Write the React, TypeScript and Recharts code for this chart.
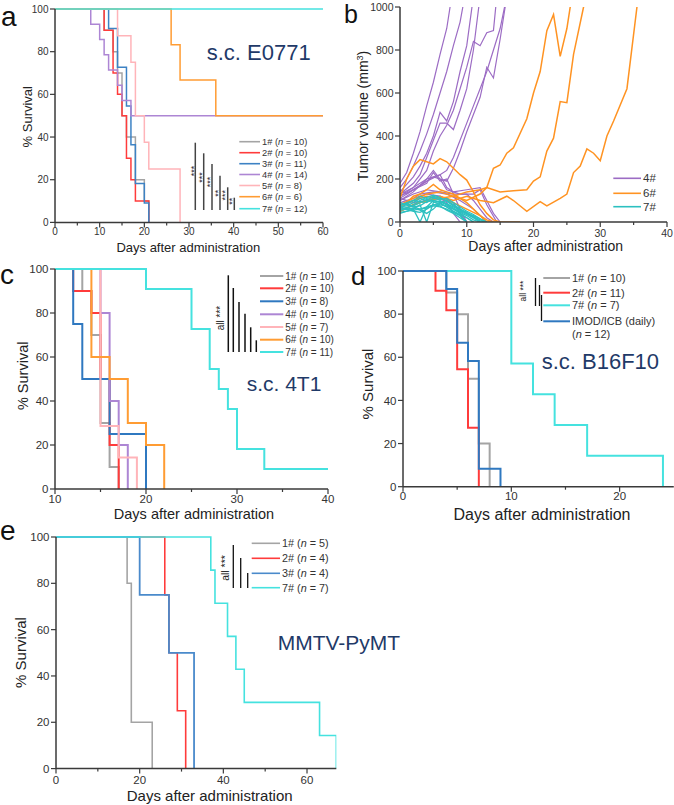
import { LineChart, Line, XAxis, YAxis } from "recharts";

type P = [number, number];

const FONT = "'Liberation Sans', Arial, Helvetica, sans-serif";
const AXIS = "#3a3a3a";
const NAVY = "#1f3a68";

const GREY = "#a4a4a4";
const RED = "#ff3b3b";
const BLUE = "#3d82c4";
const PURPLE = "#ad86d4";
const PINK = "#ffb4b9";
const ORANGE = "#ff9c33";
const CYAN = "#45e2df";

// ---------- a: s.c. E0771 survival ----------
const aGroups = ["1#", "2#", "3#", "4#", "5#", "6#", "7#"];
const aN = [10, 10, 11, 14, 8, 6, 12];
const a1: P[] = [[0, 100], [11, 90], [13, 80], [14, 70], [15, 50], [16, 40], [18, 20], [20, 10], [21, 0]];
const a2: P[] = [[0, 100], [11, 90], [13, 70], [14, 60], [15, 50], [16, 30], [17, 20], [18, 10], [21, 0]];
const a3: P[] = [[0, 100], [12, 90.9], [14, 72.7], [16, 54.5], [17, 36.4], [18, 18.2], [20, 9.1], [21, 0]];
const a4: P[] = [[0, 100], [8, 92.9], [10, 85.7], [11, 78.6], [12, 71.4], [14, 64.3], [15, 57.1], [17, 50], [60, 50]];
const a5: P[] = [[0, 100], [14, 87.5], [17, 75], [18, 50], [20, 37.5], [21, 25], [28, 0]];
const a6: P[] = [[0, 100], [26, 83.3], [28, 66.7], [36, 50], [60, 50]];
const a7: P[] = [[0, 100], [60, 100]];
const aXTicks = [0, 5, 10, 15, 20, 25, 30, 35, 40, 45, 50, 55, 60];
const aXMajor = [0, 10, 20, 30, 40, 50, 60];

// ---------- b: tumour volume ----------
const b4: P[][] = [
  [[0, 180], [1, 230], [2, 320], [3, 420], [4, 540], [5, 650], [6, 780], [7, 900], [8, 1100]],
  [[0, 160], [1, 200], [2, 260], [3, 330], [4, 410], [5, 500], [6, 600], [7, 700], [8, 820], [9, 930], [10, 1100]],
  [[0, 140], [2, 210], [3, 260], [4, 320], [5, 400], [6, 510], [7, 470], [8, 560], [9, 700], [10, 820], [11, 1050]],
  [[0, 130], [2, 180], [3, 220], [4, 300], [5, 380], [6, 460], [7, 460], [8, 430], [9, 520], [10, 620], [11, 800], [12, 1050]],
  [[0, 120], [2, 160], [4, 240], [5, 330], [6, 400], [7, 450], [8, 520], [9, 620], [10, 720], [11, 840], [12, 820], [13, 880], [14, 890], [14.5, 1050]],
  [[0, 100], [2, 140], [4, 200], [5, 240], [6, 200], [7, 190], [8, 250], [9, 330], [10, 420], [11, 500], [12, 580], [13, 720], [14, 670], [15, 850], [16, 1050]],
  [[0, 110], [2, 150], [4, 190], [6, 220], [7, 240], [8, 300], [9, 380], [10, 460], [11, 540], [12, 620], [13, 700], [14, 800], [15, 900], [16, 1050]],
  [[0, 120], [2, 150], [4, 180], [5, 230], [6, 190], [7, 200], [8, 130], [9, 60], [10, 0]],
  [[0, 100], [2, 130], [4, 150], [6, 140], [8, 130], [10, 130], [11, 100], [12, 60], [13, 20], [14, 0]],
  [[0, 150], [1, 130], [3, 170], [5, 210], [6, 200], [7, 150], [9, 130], [11, 130], [12, 150], [13, 80], [14.5, 0]],
  [[0, 80], [2, 100], [4, 130], [6, 120], [8, 90], [9, 40], [10, 0]],
  [[0, 90], [2, 110], [3, 130], [5, 140], [7, 130], [9, 100], [11, 60], [12, 30], [13, 0]],
  [[0, 110], [2, 90], [4, 100], [6, 110], [7, 90], [8, 40], [9, 0]],
  [[0, 130], [2, 160], [4, 200], [6, 220], [7, 160], [8, 140], [10, 150], [12, 160], [13, 100], [14, 40], [15, 0]],
];
const b6: P[][] = [
  [[0, 110], [1, 200], [2, 260], [3, 290], [4, 280], [5, 270], [6, 295], [7, 280], [8, 250], [9, 220], [10, 195], [11, 140], [12, 80], [13, 40], [14, 10], [15, 0]],
  [[0, 60], [1, 90], [2, 120], [3, 130], [4, 150], [5, 175], [6, 150], [7, 140], [8, 130], [9, 110], [10, 90], [11, 60], [12, 30], [13, 10], [14, 0]],
  [[0, 50], [2, 80], [4, 100], [6, 110], [8, 90], [10, 60], [12, 30], [13, 0], [18, 0]],
  [[0, 80], [2, 110], [4, 130], [6, 140], [8, 120], [10, 100], [12, 130], [13, 160], [14, 250], [15, 265], [16, 320], [17, 345], [19, 480], [20, 600], [21, 700], [22, 890], [23, 965], [24, 770], [25, 900], [26, 1100]],
  [[0, 70], [2, 100], [4, 120], [6, 110], [8, 120], [10, 140], [12, 150], [13, 160], [14, 150], [15, 140], [17, 145], [19, 150], [20, 190], [21, 210], [22, 330], [23, 390], [24, 560], [25, 555], [26, 780], [27.5, 1000], [28, 1100]],
  [[0, 50], [2, 80], [4, 100], [6, 120], [8, 100], [10, 120], [12, 100], [13, 95], [14, 90], [16, 120], [17, 100], [19, 50], [21, 95], [22, 75], [24, 110], [25, 130], [26, 230], [27, 260], [28, 340], [29, 320], [30, 285], [31, 400], [32, 470], [34, 620], [35.5, 1000]],
];
const b7: P[][] = [
  [[0, 70], [1, 75], [2, 90], [3, 110], [4, 100], [5, 120], [6, 110], [7, 100], [8, 80], [9, 60], [10, 40], [11, 25], [12, 10], [13, 0]],
  [[0, 60], [1, 65], [2, 80], [3, 100], [4, 115], [5, 125], [6, 115], [7, 95], [8, 75], [9, 55], [10, 40], [11, 20], [12, 0]],
  [[0, 55], [1, 60], [2, 60], [3, 0], [4, 70], [5, 100], [6, 90], [7, 70], [8, 50], [9, 30], [10, 0]],
  [[0, 40], [2, 60], [3, 80], [4, 0], [5, 90], [6, 95], [7, 80], [8, 60], [9, 40], [10, 20], [11, 0]],
  [[0, 75], [1, 90], [2, 100], [3, 95], [4, 90], [5, 110], [6, 105], [7, 110], [8, 90], [9, 70], [10, 50], [11, 35], [12, 15], [13, 0]],
  [[0, 80], [1, 85], [2, 70], [3, 60], [4, 70], [5, 80], [6, 85], [7, 70], [8, 50], [9, 35], [10, 20], [11, 0]],
  [[0, 65], [2, 100], [3, 120], [4, 110], [5, 115], [6, 100], [7, 85], [8, 70], [9, 55], [10, 40], [11, 30], [12, 15], [13, 0]],
  [[0, 45], [2, 55], [4, 65], [5, 75], [6, 70], [7, 60], [8, 45], [9, 30], [10, 0]],
  [[0, 90], [1, 80], [2, 70], [3, 75], [4, 95], [5, 100], [6, 95], [7, 85], [8, 65], [9, 45], [10, 30], [11, 10], [12, 0]],
  [[0, 60], [2, 75], [3, 90], [4, 105], [5, 95], [6, 80], [7, 75], [8, 60], [9, 50], [10, 35], [11, 20], [12, 5], [13, 0]],
  [[0, 70], [2, 50], [3, 45], [4, 60], [5, 80], [6, 75], [7, 55], [8, 40], [9, 20], [10, 0]],
  [[0, 55], [2, 65], [3, 55], [4, 40], [5, 60], [6, 90], [7, 100], [8, 80], [9, 60], [10, 45], [11, 25], [12, 0]],
];
const bXTicks = [0, 5, 10, 15, 20, 25, 30, 35, 40];
const bXMajor = [0, 10, 20, 30, 40];
const bYTicks = [0, 200, 400, 600, 800, 1000];

// ---------- c: s.c. 4T1 survival ----------
const cN = [10, 10, 8, 10, 7, 10, 11];
const c1: P[] = [[10, 100], [13, 90], [14, 70], [15, 30], [16, 10], [17, 0]];
const c2: P[] = [[10, 100], [12, 90], [14, 80], [15, 50], [16, 20], [17, 0]];
const c3: P[] = [[10, 100], [12, 75], [13, 50], [16, 25], [20, 0]];
const c4: P[] = [[10, 100], [15, 80], [16, 40], [17, 20], [18, 0]];
const c5: P[] = [[10, 100], [15, 28.6], [17, 14.3], [19, 0]];
const c6: P[] = [[10, 100], [14, 60], [16, 50], [18, 30], [20, 20], [22, 0]];
const c7: P[] = [[10, 100], [20, 90.9], [25, 72.7], [27, 54.5], [28, 45.5], [29, 36.4], [30, 18.2], [33, 9.1], [40, 9.1]];
const cXTicks = [10, 15, 20, 25, 30, 35, 40];
const cXMajor = [10, 20, 30, 40];

// ---------- d: s.c. B16F10 survival ----------
const d1: P[] = [[0, 100], [4, 90], [5, 80], [6, 50], [7, 20], [8, 0]];
const d2: P[] = [[0, 100], [3, 90.9], [4, 81.8], [5, 54.5], [6, 27.3], [7, 0]];
const d7: P[] = [[0, 100], [10, 57.1], [12, 42.9], [14, 28.6], [17, 14.3], [24, 0]];
const dImod: P[] = [[0, 100], [4, 91.7], [5, 66.7], [6, 58.3], [7, 8.3], [9, 0]];
const dXTicks = [0, 5, 10, 15, 20];
const dXMajor = [0, 10, 20];

// ---------- e: MMTV-PyMT survival ----------
const e1: P[] = [[0, 100], [17, 80], [18, 20], [23, 0]];
const e2: P[] = [[0, 100], [26, 75], [27, 50], [29, 25], [31, 0]];
const e3: P[] = [[0, 100], [20, 75], [27, 50], [33, 0]];
const e7: P[] = [[0, 100], [37, 85.7], [38, 71.4], [41, 57.1], [43, 42.9], [45, 28.6], [63, 14.3], [67, 0]];
const eXTicks = [0, 10, 20, 30, 40, 50, 60];
const eXMajor = [0, 20, 40, 60];

const survTicks = [0, 20, 40, 60, 80, 100];

interface Series {
  pts: P[];
  color: string;
  width?: number;
}

interface PanelProps {
  L: number;
  T: number;
  R: number;
  B: number;
  xDomain: [number, number];
  xTicks: number[];
  xMajor: number[];
  yDomain: [number, number];
  yTicks: number[];
  series: Series[];
  fs: number;
  labelGap?: number;
  step?: boolean;
  clip?: boolean;
}

const YW = 40;
const XH = 30;
const MT = 8;
const MR = 8;

const Panel = (p: PanelProps) => {
  const w = p.R - p.L + YW + MR;
  const h = p.B - p.T + MT + XH;
  const gap = p.labelGap ?? 13;
  const xTick = (props: any) => {
    const { x, y, payload } = props;
    const major = p.xMajor.includes(payload.value);
    return (
      <g>
        <line x1={x} y1={y} x2={x} y2={y + (major ? 5 : 3)} stroke={AXIS} strokeWidth={1.2} />
        {major && (
          <text x={x} y={y + gap} textAnchor="middle" fontSize={p.fs} fill="#333" fontFamily={FONT}>
            {payload.value}
          </text>
        )}
      </g>
    );
  };
  const yTick = (props: any) => {
    const { x, y, payload } = props;
    return (
      <g>
        <line x1={x} y1={y} x2={x - 5} y2={y} stroke={AXIS} strokeWidth={1.2} />
        <text x={x - 6.5} y={y} dy="0.36em" textAnchor="end" fontSize={p.fs} fill="#333" fontFamily={FONT}>
          {payload.value}
        </text>
      </g>
    );
  };
  return (
    <div style={{ position: "absolute", left: p.L - YW, top: p.T - MT }}>
      <LineChart width={w} height={h} margin={{ top: MT, right: MR, bottom: 0, left: 0 }}>
        <XAxis
          dataKey="t"
          type="number"
          domain={p.xDomain}
          ticks={p.xTicks}
          interval={0}
          height={XH}
          tickSize={0}
          tickMargin={0}
          tickLine={false}
          tick={xTick}
          axisLine={{ stroke: AXIS, strokeWidth: 1.5 }}
          allowDataOverflow
        />
        <YAxis
          type="number"
          domain={p.yDomain}
          ticks={p.yTicks}
          interval={0}
          width={YW}
          tickSize={0}
          tickMargin={0}
          tickLine={false}
          tick={yTick}
          axisLine={{ stroke: AXIS, strokeWidth: 1.5 }}
          allowDataOverflow={p.clip}
        />
        {p.series.map((s, i) => (
          <Line
            key={i}
            data={s.pts.map(([t, v]) => ({ t, s: v }))}
            dataKey="s"
            type={p.step === false ? "linear" : "stepAfter"}
            stroke={s.color}
            strokeWidth={s.width ?? 1.6}
            dot={false}
            activeDot={false}
            isAnimationActive={false}
          />
        ))}
      </LineChart>
    </div>
  );
};

const Legend = ({
  labels,
  ns,
  colors,
  x0,
  x1,
  rows,
  fs,
  sw = 1.6,
}: {
  labels: string[];
  ns: (number | null)[];
  colors: string[];
  x0: number;
  x1: number;
  rows: number[];
  fs: number;
  sw?: number;
}) => (
  <g>
    {labels.map((lab, i) => (
      <g key={i}>
        <line x1={x0} y1={rows[i]} x2={x1} y2={rows[i]} stroke={colors[i]} strokeWidth={sw} />
        <text x={x1 + 2} y={rows[i]} dy="0.36em" fontSize={fs} fill="#333">
          {lab}
          {ns[i] !== null && (
            <>
              {" ("}
              <tspan fontStyle="italic">n</tspan>
              {` = ${ns[i]})`}
            </>
          )}
        </text>
      </g>
    ))}
  </g>
);

const Rot = ({ x, y, fs, children }: { x: number; y: number; fs: number; children: any }) => (
  <text x={x} y={y} fontSize={fs} textAnchor="middle" transform={`rotate(-90 ${x} ${y})`} fill="#222">
    {children}
  </text>
);

const VLines = ({ lines, color, sw }: { lines: number[][]; color: string; sw: number }) => (
  <g>
    {lines.map(([x, y1, y2], i) => (
      <line key={i} x1={x} y1={y1} x2={x} y2={y2} stroke={color} strokeWidth={sw} />
    ))}
  </g>
);

export default function App() {
  const aColors = [GREY, RED, BLUE, PURPLE, PINK, ORANGE, CYAN];
  return (
    <div
      style={{
        position: "absolute",
        left: 0,
        top: 0,
        width: 674,
        height: 805,
        overflow: "hidden",
        background: "#fff",
        fontFamily: FONT,
      }}
    >
      <Panel
        L={55}
        T={9.3}
        R={323}
        B={222.7}
        xDomain={[0, 60]}
        xTicks={aXTicks}
        xMajor={aXMajor}
        yDomain={[0, 100]}
        yTicks={survTicks}
        fs={10}
        series={[a1, a2, a3, a4, a5, a6, a7].map((pts, i) => ({ pts, color: aColors[i], width: 1.5 }))}
      />
      <Panel
        L={400}
        T={6.7}
        R={667}
        B={221.7}
        xDomain={[0, 40]}
        xTicks={bXTicks}
        xMajor={bXMajor}
        yDomain={[0, 1000]}
        yTicks={bYTicks}
        fs={10.5}
        labelGap={14.5}
        step={false}
        clip
        series={[
          ...b4.map((pts) => ({ pts, color: "#9c6cc4", width: 1.2 })),
          ...b6.map((pts) => ({ pts, color: "#ff9322", width: 1.5 })),
          ...b7.map((pts) => ({ pts, color: "#2cc0c0", width: 1.3 })),
        ]}
      />
      <Panel
        L={55}
        T={269}
        R={328}
        B={489}
        xDomain={[10, 40]}
        xTicks={cXTicks}
        xMajor={cXMajor}
        yDomain={[0, 100]}
        yTicks={survTicks}
        fs={11.5}
        labelGap={13.5}
        series={[c1, c2, c3, c4, c5, c6, c7].map((pts, i) => ({ pts, color: aColors[i] === BLUE ? "#2f78c0" : aColors[i], width: 2 }))}
      />
      <Panel
        L={403.3}
        T={271}
        R={674.1}
        B={486.7}
        xDomain={[0, 25]}
        xTicks={dXTicks}
        xMajor={dXMajor}
        yDomain={[0, 100]}
        yTicks={survTicks}
        fs={11.5}
        labelGap={13}
        series={[
          { pts: d1, color: GREY, width: 2 },
          { pts: d2, color: RED, width: 2 },
          { pts: d7, color: CYAN, width: 2 },
          { pts: dImod, color: "#2f78c0", width: 2 },
        ]}
      />
      <Panel
        L={55.7}
        T={536.7}
        R={336}
        B={768.3}
        xDomain={[0, 67]}
        xTicks={eXTicks}
        xMajor={eXMajor}
        yDomain={[0, 100]}
        yTicks={survTicks}
        fs={11.5}
        labelGap={15.5}
        series={[
          { pts: e1, color: GREY, width: 1.6 },
          { pts: e2, color: RED, width: 1.6 },
          { pts: e3, color: "#4a8acb", width: 1.8 },
          { pts: e7, color: CYAN, width: 1.6 },
        ]}
      />

      <svg
        width={674}
        height={805}
        style={{ position: "absolute", left: 0, top: 0, pointerEvents: "none" }}
        fontFamily={FONT}
      >
        {/* panel letters */}
        <g fill="#111">
          <text x={1} y={25.5} fontSize={28}>a</text>
          <text x={344} y={23} fontSize={25}>b</text>
          <text x={0} y={284} fontSize={28}>c</text>
          <text x={351} y={285} fontSize={26}>d</text>
          <text x={0} y={540} fontSize={28}>e</text>
        </g>

        {/* titles */}
        <g fill={NAVY}>
          <text x={206.7} y={59.5} fontSize={22}>s.c. E0771</text>
          <text x={246.7} y={391} fontSize={21}>s.c. 4T1</text>
          <text x={541.7} y={369.3} fontSize={22}>s.c. B16F10</text>
          <text x={277.7} y={650} fontSize={21}>MMTV-PyMT</text>
        </g>

        {/* axis titles */}
        <g fill="#222">
          <text x={188.3} y={251.5} fontSize={13} textAnchor="middle">Days after administration</text>
          <Rot x={32.5} y={116.7} fs={13}>% Survival</Rot>
          <text x={545.7} y={251} fontSize={14} textAnchor="middle">Days after administration</text>
          <Rot x={368} y={116} fs={14}>
            Tumor volume (mm<tspan fontSize={9} dy={-5}>3</tspan>
            <tspan dy={5}>)</tspan>
          </Rot>
          <text x={194} y={519} fontSize={14.5} textAnchor="middle">Days after administration</text>
          <Rot x={28} y={375.8} fs={14.5}>% Survival</Rot>
          <text x={542} y={520} fontSize={16} textAnchor="middle">Days after administration</text>
          <Rot x={372.5} y={384} fs={15}>% Survival</Rot>
          <text x={209.7} y={800.5} fontSize={15} textAnchor="middle">Days after administration</text>
          <Rot x={26} y={652.5} fs={15}>% Survival</Rot>
        </g>

        {/* a: legend + significance */}
        <Legend
          labels={aGroups}
          ns={aN}
          colors={aColors}
          x0={239.3}
          x1={260}
          rows={[141.7, 152.7, 163.7, 174.5, 185.5, 196.7, 208.7]}
          fs={9.3}
        />
        <VLines
          lines={[
            [195.3, 142.7, 210],
            [203.7, 153.3, 210],
            [212, 164, 210],
            [220, 175.7, 210],
            [227.7, 187.3, 210],
            [234.3, 197.7, 210],
          ]}
          color="#444"
          sw={1.5}
        />
        <g fontSize={9}>
          <Rot x={196.5} y={171} fs={9}>***</Rot>
          <Rot x={204.5} y={177.5} fs={9}>***</Rot>
          <Rot x={212.8} y={182} fs={9}>***</Rot>
          <Rot x={220.8} y={193.3} fs={9}>**</Rot>
          <Rot x={228.1} y={195.3} fs={9}>***</Rot>
          <Rot x={235.5} y={201.2} fs={9}>**</Rot>
        </g>

        {/* b: legend */}
        <Legend
          labels={["4#", "6#", "7#"]}
          ns={[null, null, null]}
          colors={["#9c6cc4", "#ff9322", "#2cc0c0"]}
          x0={613.3}
          x1={641}
          rows={[178.3, 193.3, 206.7]}
          fs={11.5}
        />

        {/* c: legend + significance */}
        <Legend
          labels={aGroups}
          ns={cN}
          colors={[GREY, RED, "#2f78c0", PURPLE, PINK, ORANGE, CYAN]}
          x0={260}
          x1={283.3}
          rows={[276, 288.3, 301.3, 314.3, 327, 339.7, 352]}
          fs={10}
          sw={2}
        />
        <VLines
          lines={[
            [228.3, 275.3, 352],
            [233.3, 288, 352],
            [239, 302, 352],
            [245, 313.7, 352],
            [250.7, 327.3, 352],
            [256.3, 340.3, 352],
          ]}
          color="#111"
          sw={1.5}
        />
        <Rot x={223.8} y={318} fs={10}>all ***</Rot>

        {/* d: legend + significance */}
        <Legend
          labels={["1#", "2#", "7#", "IMOD/ICB (daily)"]}
          ns={[10, 11, 7, null]}
          colors={[GREY, RED, CYAN, "#2f78c0"]}
          x0={543.3}
          x1={570}
          rows={[278, 292.7, 305.3, 321.3]}
          fs={11}
          sw={2}
        />
        <text x={572} y={333.7} dy="0.36em" fontSize={11} fill="#333">
          (<tspan fontStyle="italic">n</tspan> = 12)
        </text>
        <VLines
          lines={[
            [535.5, 278, 306],
            [539.5, 285, 306],
            [541.5, 295, 321],
          ]}
          color="#111"
          sw={1.3}
        />
        <Rot x={526} y={291} fs={8.5}>all ***</Rot>

        {/* e: legend + significance */}
        <Legend
          labels={["1#", "2#", "3#", "7#"]}
          ns={[5, 4, 4, 7]}
          colors={[GREY, RED, "#4a8acb", CYAN]}
          x0={251.7}
          x1={280}
          rows={[543.3, 558.3, 573.3, 587.7]}
          fs={10.8}
        />
        <VLines
          lines={[
            [233.3, 545, 588],
            [240.7, 558, 588],
            [247.7, 573, 588],
          ]}
          color="#111"
          sw={1.3}
        />
        <Rot x={229} y={568} fs={10.5}>all ***</Rot>
      </svg>
    </div>
  );
}
